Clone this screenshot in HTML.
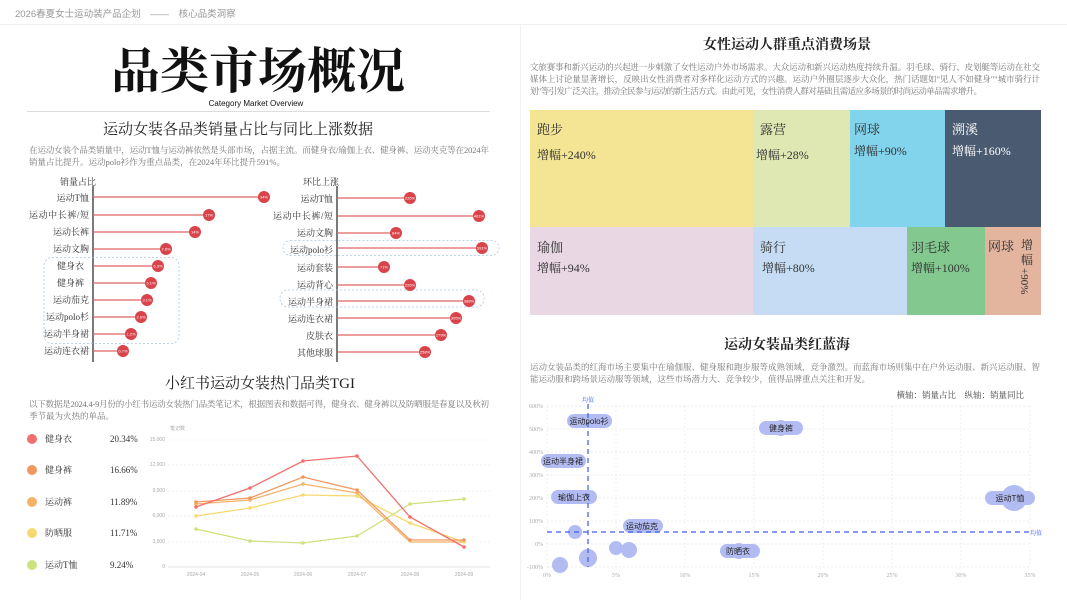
<!DOCTYPE html>
<html><head><meta charset="utf-8"><style>
html,body{margin:0;padding:0;background:#fff;}
svg{display:block;font-family:"Liberation Serif","Noto Serif CJK SC",serif;}
.s{font-family:"Liberation Sans","Noto Sans CJK SC",sans-serif;}
.p{font-size:8.5px;fill:#777;}
.lab{font-size:9px;fill:#333;}
.dv{font-size:4px;fill:#fff;font-family:"Liberation Sans",sans-serif;}
.ax{font-size:5px;fill:#aaa;font-family:"Liberation Sans",sans-serif;}
.sx{font-size:6px;fill:#aaa;}
.tm{font-size:13px;fill:#333;}
.tv{font-size:12px;fill:#333;}
.bl{font-size:8px;fill:#222;font-family:"Liberation Sans","Noto Sans CJK SC",sans-serif;}
</style></head><body>
<svg width="1067" height="600" viewBox="0 0 1067 600" xmlns="http://www.w3.org/2000/svg">
<rect width="1067" height="600" fill="#fff"/>
<!-- header -->
<text x="15" y="17" class="s" font-size="9.5" fill="#999">2026春夏女士运动装产品企划　——　核心品类洞察</text>
<line x1="0" y1="24.5" x2="1067" y2="24.5" stroke="#eee"/>
<line x1="520.5" y1="25" x2="520.5" y2="600" stroke="#f2f2f2"/>
<!-- big title -->
<text x="258" y="88" text-anchor="middle" font-size="49" font-weight="bold" fill="#111">品类市场概况</text>
<text x="256" y="106" text-anchor="middle" class="s" font-size="8" fill="#111">Category Market Overview</text>
<line x1="27" y1="111.5" x2="490" y2="111.5" stroke="#ddd"/>
<text x="238" y="134" text-anchor="middle" font-size="15" fill="#222">运动女装各品类销量占比与同比上涨数据</text>
<text x="29" y="153" class="p" textLength="460">在运动女装个品类销量中，运动T恤与运动裤依然是头部市场，占据主流。而健身衣/瑜伽上衣、健身裤、运动夹克等在2024年</text>
<text x="29" y="165" class="p">销量占比提升。运动polo衫作为重点品类，在2024年环比提升591%。</text>

<!-- left lollipop -->
<text x="60" y="185" class="lab">销量占比</text>
<line x1="93" y1="186" x2="93" y2="362" stroke="#222" stroke-width="1.2"/>
<rect x="44" y="257.5" width="135" height="86" rx="8" fill="none" stroke="#a9c6e6" stroke-dasharray="2,2" stroke-width="0.8"/>
<g class="lab" text-anchor="end">
<text x="89" y="201">运动T恤</text>
<text x="89" y="218" textLength="60">运动中长裤/短</text>
<text x="89" y="235">运动长裤</text>
<text x="89" y="252">运动文胸</text>
<text x="84" y="269">健身衣</text>
<text x="84" y="286">健身裤</text>
<text x="89" y="303">运动茄克</text>
<text x="89" y="320">运动polo杉</text>
<text x="89" y="337">运动半身裙</text>
<text x="89" y="354">运动连衣裙</text>
</g>
<g stroke="#e06464" stroke-width="1.3">
<line x1="93" y1="197" x2="264" y2="197"/><line x1="93" y1="215" x2="209" y2="215"/>
<line x1="93" y1="232" x2="195" y2="232"/><line x1="93" y1="249" x2="166" y2="249"/>
<line x1="93" y1="266" x2="158" y2="266"/><line x1="93" y1="283" x2="151" y2="283"/>
<line x1="93" y1="300" x2="147" y2="300"/><line x1="93" y1="317" x2="141" y2="317"/>
<line x1="93" y1="334" x2="131" y2="334"/><line x1="93" y1="351" x2="123" y2="351"/>
</g>
<g fill="#d9434a">
<circle cx="264" cy="197" r="6"/><circle cx="209" cy="215" r="6"/><circle cx="195" cy="232" r="6"/><circle cx="166" cy="249" r="6"/>
<circle cx="158" cy="266" r="6"/><circle cx="151" cy="283" r="6"/><circle cx="147" cy="300" r="6"/><circle cx="141" cy="317" r="6"/>
<circle cx="131" cy="334" r="6"/><circle cx="123" cy="351" r="6"/>
</g>
<g class="dv" text-anchor="middle">
<text x="264" y="198.5">34%</text><text x="209" y="216.5">17%</text><text x="195" y="233.5">14%</text><text x="166" y="250.5">7.8%</text>
<text x="158" y="267.5">6.3%</text><text x="151" y="284.5">5.1%</text><text x="147" y="301.5">3.1%</text><text x="141" y="318.5">2.6%</text>
<text x="131" y="335.5">1.2%</text><text x="123" y="352.5">0.7%</text>
</g>

<!-- right lollipop -->
<text x="303" y="185" class="lab">环比上涨</text>
<line x1="337" y1="186" x2="337" y2="362" stroke="#222" stroke-width="1.2"/>
<rect x="283" y="240.5" width="216" height="15" rx="7.5" fill="none" stroke="#a9c6e6" stroke-dasharray="2,2" stroke-width="0.8"/>
<rect x="280" y="290" width="204" height="17" rx="8" fill="none" stroke="#a9c6e6" stroke-dasharray="2,2" stroke-width="0.8"/>
<g class="lab" text-anchor="end">
<text x="333" y="202">运动T恤</text>
<text x="333" y="219" textLength="60">运动中长裤/短</text>
<text x="333" y="236">运动文胸</text>
<text x="333" y="253">运动polo衫</text>
<text x="333" y="271">运动套装</text>
<text x="333" y="288">运动背心</text>
<text x="333" y="305">运动半身裙</text>
<text x="333" y="322">运动连衣裙</text>
<text x="333" y="339">皮肤衣</text>
<text x="333" y="356">其他球服</text>
</g>
<g stroke="#e06464" stroke-width="1.3">
<line x1="337" y1="198" x2="410" y2="198"/><line x1="337" y1="216" x2="479" y2="216"/>
<line x1="337" y1="233" x2="396" y2="233"/><line x1="337" y1="248" x2="482" y2="248"/>
<line x1="337" y1="267" x2="384" y2="267"/><line x1="337" y1="285" x2="410" y2="285"/>
<line x1="337" y1="301" x2="469" y2="301"/><line x1="337" y1="318" x2="456" y2="318"/>
<line x1="337" y1="335" x2="441" y2="335"/><line x1="337" y1="352" x2="425" y2="352"/>
</g>
<g fill="#d9434a">
<circle cx="410" cy="198" r="6"/><circle cx="479" cy="216" r="6"/><circle cx="396" cy="233" r="6"/><circle cx="482" cy="248" r="6"/>
<circle cx="384" cy="267" r="6"/><circle cx="410" cy="285" r="6"/><circle cx="469" cy="301" r="6"/><circle cx="456" cy="318" r="6"/>
<circle cx="441" cy="335" r="6"/><circle cx="425" cy="352" r="6"/>
</g>
<g class="dv" text-anchor="middle">
<text x="410" y="199.5">226%</text><text x="479" y="217.5">461%</text><text x="396" y="234.5">84%</text><text x="482" y="249.5">591%</text>
<text x="384" y="268.5">71%</text><text x="410" y="286.5">226%</text><text x="469" y="302.5">388%</text><text x="456" y="319.5">305%</text>
<text x="441" y="336.5">279%</text><text x="425" y="353.5">258%</text>
</g>

<!-- TGI -->
<text x="260" y="388" text-anchor="middle" font-size="15" fill="#222">小红书运动女装热门品类TGI</text>
<text x="29" y="407" class="p" textLength="460">以下数据是2024.4-9月份的小红书运动女装热门品类笔记术，根据图表和数据可得，健身衣、健身裤以及防晒服是春夏以及秋初</text>
<text x="29" y="419" class="p">季节最为火热的单品。</text>
<g font-size="9" fill="#333">
<circle cx="32" cy="439" r="5" fill="#f07070"/><text x="45" y="442">健身衣</text><text x="110" y="442">20.34%</text>
<circle cx="32" cy="470" r="5" fill="#f09860"/><text x="45" y="473">健身裤</text><text x="110" y="473">16.66%</text>
<circle cx="32" cy="502" r="5" fill="#f4b468"/><text x="45" y="505">运动裤</text><text x="110" y="505">11.89%</text>
<circle cx="32" cy="533" r="5" fill="#f8d870"/><text x="45" y="536">防晒服</text><text x="110" y="536">11.71%</text>
<circle cx="32" cy="565" r="5" fill="#cde27e"/><text x="45" y="568">运动T恤</text><text x="110" y="568">9.24%</text>
</g>
<text x="170" y="430" class="ax">笔记数</text>
<g stroke="#eee" stroke-dasharray="2,2" stroke-width="0.7">
<line x1="168" y1="440" x2="490" y2="440"/><line x1="168" y1="465" x2="490" y2="465"/>
<line x1="168" y1="491" x2="490" y2="491"/><line x1="168" y1="516" x2="490" y2="516"/>
<line x1="168" y1="542" x2="490" y2="542"/>
</g>
<line x1="168" y1="567" x2="490" y2="567" stroke="#ddd" stroke-width="0.7"/>
<g class="ax" text-anchor="end">
<text x="165" y="441">15,000</text><text x="165" y="466">12,000</text><text x="165" y="492">9,000</text>
<text x="165" y="517">6,000</text><text x="165" y="543">3,000</text><text x="165" y="568">0</text>
</g>
<g class="ax" text-anchor="middle">
<text x="196" y="576">2024-04</text><text x="250" y="576">2024-05</text><text x="303" y="576">2024-06</text>
<text x="357" y="576">2024-07</text><text x="410" y="576">2024-08</text><text x="464" y="576">2024-09</text>
</g>
<g fill="none" stroke-width="1.3">
<polyline stroke="#cde27e" points="196,529 250,541 303,543 357,536 410,504 464,499"/>
<polyline stroke="#f8d870" points="196,516 250,508 303,495 357,496 410,523 464,542"/>
<polyline stroke="#f4b468" points="196,504 250,500 303,484 357,493 410,542 464,542"/>
<polyline stroke="#f09860" points="196,502 250,498 303,477 357,490 410,540 464,540"/>
<polyline stroke="#f07070" points="196,507 250,488 303,461 357,456 410,517 464,547"/>
</g>
<g>
<g fill="#cde27e"><circle cx="196" cy="529" r="1.8"/><circle cx="250" cy="541" r="1.8"/><circle cx="303" cy="543" r="1.8"/><circle cx="357" cy="536" r="1.8"/><circle cx="410" cy="504" r="1.8"/><circle cx="464" cy="499" r="1.8"/></g>
<g fill="#f8d870"><circle cx="196" cy="516" r="1.8"/><circle cx="250" cy="508" r="1.8"/><circle cx="303" cy="495" r="1.8"/><circle cx="357" cy="496" r="1.8"/><circle cx="410" cy="523" r="1.8"/><circle cx="464" cy="542" r="1.8"/></g>
<g fill="#f4b468"><circle cx="196" cy="504" r="1.8"/><circle cx="250" cy="500" r="1.8"/><circle cx="303" cy="484" r="1.8"/><circle cx="357" cy="493" r="1.8"/></g>
<g fill="#f09860"><circle cx="196" cy="502" r="1.8"/><circle cx="250" cy="498" r="1.8"/><circle cx="303" cy="477" r="1.8"/><circle cx="357" cy="490" r="1.8"/><circle cx="410" cy="540" r="1.8"/><circle cx="464" cy="540" r="1.8"/></g>
<g fill="#f07070"><circle cx="196" cy="507" r="1.8"/><circle cx="250" cy="488" r="1.8"/><circle cx="303" cy="461" r="1.8"/><circle cx="357" cy="456" r="1.8"/><circle cx="410" cy="517" r="1.8"/><circle cx="464" cy="547" r="1.8"/></g>
</g>

<!-- right: scenes -->
<text x="787" y="49" text-anchor="middle" font-size="14" font-weight="bold" fill="#222">女性运动人群重点消费场景</text>
<text x="530" y="70" class="p" textLength="510">文旅赛事和新兴运动的兴起进一步刺激了女性运动户外市场需求。大众运动和新兴运动热度持续升温。羽毛球、骑行、皮划艇等运动在社交</text>
<text x="530" y="82" class="p" textLength="510">媒体上讨论量显著增长，反映出女性消费者对多样化运动方式的兴趣。运动户外圈层逐步大众化，热门话题如"见人不如健身""城市骑行计</text>
<text x="530" y="94" class="p" textLength="452">划"等引发广泛关注，推动全民参与运动的新生活方式。由此可见，女性消费人群对基础且需适应多场景的时尚运动单品需求增升。</text>
<rect x="530" y="110" width="223" height="117" fill="#f3e594"/>
<rect x="753" y="110" width="97" height="117" fill="#dfe8b2"/>
<rect x="850" y="110" width="95" height="117" fill="#82d3ec"/>
<rect x="945" y="110" width="96" height="117" fill="#4a5a70"/>
<rect x="530" y="227" width="223" height="88" fill="#ead7e4"/>
<rect x="753" y="227" width="154" height="88" fill="#c6dcf4"/>
<rect x="907" y="227" width="78" height="88" fill="#83c98f"/>
<rect x="985" y="227" width="56" height="88" fill="#e3b59f"/>
<g class="tm">
<text x="537" y="134">跑步</text><text x="760" y="134">露营</text><text x="854" y="134">网球</text><text x="952" y="134" fill="#fff">溯溪</text>
<text x="537" y="252">瑜伽</text><text x="760" y="252">骑行</text><text x="911" y="252">羽毛球</text><text x="988" y="251">网球</text>
</g>
<g class="tv">
<text x="537" y="159">增幅+240%</text><text x="756" y="159">增幅+28%</text><text x="854" y="155">增幅+90%</text><text x="952" y="155" fill="#fff">增幅+160%</text>
<text x="537" y="272">增幅+94%</text><text x="762" y="272">增幅+80%</text><text x="911" y="272">增幅+100%</text>
<text x="1021" y="249">增</text><text x="1021" y="264">幅</text>
<text transform="translate(1021,268) rotate(90)" font-size="11">+90%</text>
</g>

<!-- red blue sea -->
<text x="787" y="349" text-anchor="middle" font-size="14" font-weight="bold" fill="#222">运动女装品类红蓝海</text>
<text x="530" y="370" class="p" textLength="510">运动女装品类的红海市场主要集中在瑜伽服、健身服和跑步服等成熟领域，竞争激烈。而蓝海市场则集中在户外运动服、新兴运动服、智</text>
<text x="530" y="382" class="p">能运动服和跨场景运动服等领域，这些市场潜力大、竞争较少，值得品牌重点关注和开发。</text>
<text x="1024" y="398" text-anchor="end" font-size="8.5" fill="#444">横轴：销量占比　纵轴：销量同比</text>
<g stroke="#e8e8e8" stroke-dasharray="2,2" stroke-width="0.7">
<line x1="547" y1="406" x2="1030" y2="406"/><line x1="547" y1="429" x2="1030" y2="429"/><line x1="547" y1="452" x2="1030" y2="452"/>
<line x1="547" y1="475" x2="1030" y2="475"/><line x1="547" y1="498" x2="1030" y2="498"/><line x1="547" y1="521" x2="1030" y2="521"/>
<line x1="547" y1="544" x2="1030" y2="544"/><line x1="547" y1="567" x2="1030" y2="567"/>
<line x1="547" y1="406" x2="547" y2="567"/><line x1="616" y1="406" x2="616" y2="567"/><line x1="685" y1="406" x2="685" y2="567"/>
<line x1="754" y1="406" x2="754" y2="567"/><line x1="823" y1="406" x2="823" y2="567"/><line x1="892" y1="406" x2="892" y2="567"/>
<line x1="961" y1="406" x2="961" y2="567"/><line x1="1030" y1="406" x2="1030" y2="567"/>
</g>
<g class="sx" text-anchor="end">
<text x="543" y="408">600%</text><text x="543" y="431">500%</text><text x="543" y="454">400%</text><text x="543" y="477">300%</text>
<text x="543" y="500">200%</text><text x="543" y="523">100%</text><text x="543" y="546">0%</text><text x="543" y="569">-100%</text>
</g>
<g class="sx" text-anchor="middle">
<text x="547" y="577">0%</text><text x="616" y="577">5%</text><text x="685" y="577">10%</text><text x="754" y="577">15%</text>
<text x="823" y="577">20%</text><text x="892" y="577">25%</text><text x="961" y="577">30%</text><text x="1030" y="577">35%</text>
</g>
<g fill="#b3bcf2">
<circle cx="588" cy="421" r="7"/><rect x="567" y="414" width="45" height="14" rx="7"/>
<circle cx="781" cy="428" r="8"/><rect x="759" y="421" width="44" height="14" rx="7"/>
<rect x="541" y="454" width="45" height="14" rx="7"/>
<circle cx="574" cy="497" r="7"/><rect x="551" y="490" width="46" height="14" rx="7"/>
<circle cx="1014" cy="498" r="13"/><rect x="985" y="491" width="50" height="14" rx="7"/>
<circle cx="643" cy="526" r="7"/><rect x="623" y="519" width="40" height="14" rx="7"/>
<circle cx="575" cy="532" r="7"/>
<circle cx="616" cy="548" r="7"/><circle cx="629" cy="550" r="8"/>
<circle cx="739" cy="551" r="8"/><rect x="720" y="544" width="40" height="14" rx="7"/>
<circle cx="588" cy="558" r="9"/><circle cx="560" cy="565" r="8"/>
</g>
<g stroke="#3a5ef0" stroke-width="1.2" stroke-dasharray="5,4">
<line x1="588" y1="404" x2="588" y2="567"/><line x1="547" y1="532" x2="1030" y2="532"/>
</g>
<text x="588" y="402" text-anchor="middle" font-size="6" fill="#3a5ef0">均值</text>
<text x="1030" y="535" font-size="6" fill="#3a5ef0">均值</text>
<g class="bl" text-anchor="middle">
<text x="589" y="424">运动polo衫</text><text x="781" y="431">健身裤</text><text x="563" y="464">运动半身裙</text>
<text x="574" y="500">瑜伽上衣</text><text x="1010" y="501">运动T恤</text><text x="642" y="529">运动茄克</text><text x="738" y="554">防晒衣</text>
</g>
</svg>
</body></html>
